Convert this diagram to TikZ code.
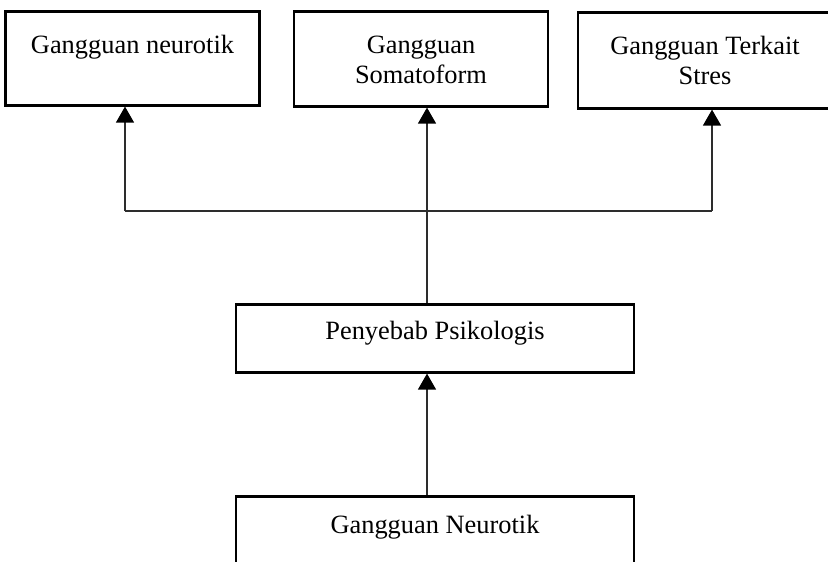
\documentclass[tikz,border=0pt]{standalone}
\usepackage{fontspec}
\setmainfont{Liberation Serif}
\usetikzlibrary{arrows.meta}
\definecolor{linegray}{RGB}{45,45,45}

\begin{document}
\begin{tikzpicture}[x=0.5pt,y=-0.5pt,
  box/.style={draw=black, line width=1.3pt, rectangle, inner sep=0pt, align=center, minimum width=127pt, font=\fontsize{13.2}{14.8}\selectfont},
  conn/.style={draw=linegray, line width=0.65pt},
  arr/.style={conn, -{Triangle[length=8pt,width=9pt,color=black]}}]
\useasboundingbox (0,0) rectangle (828,561);

\node (neurotik) [box, anchor=north, text height=21pt, text depth=26pt] at (132.5,10) {Gangguan neurotik};
\node (somato) [box, anchor=north, text height=36pt, text depth=11.5pt] at (421,10) {Gangguan\\Somatoform};
\node (stres) [box, anchor=north, text height=36pt, text depth=12pt] at (705,11) {Gangguan Terkait\\Stres};

\node (psiko) [box, anchor=north, minimum width=199pt, text height=17.5pt, text depth=16.5pt] at (435,303) {Penyebab Psikologis};
\node (gneuro) [box, anchor=north, minimum width=199pt, text height=18.5pt, text depth=40pt] at (435,495) {Gangguan Neurotik};

% junction points on the horizontal line
\coordinate (j1) at (125,211);
\coordinate (j2) at (427,211);
\coordinate (j3) at (712,211);

\draw[conn] (j1) -- (j3);
\draw[arr] (j1) -- (j1 |- neurotik.south);
\draw[arr] (j3) -- (j3 |- stres.south);
\draw[arr] (j2 |- psiko.north) -- (j2 |- somato.south);
\draw[arr] (j2 |- gneuro.north) -- (j2 |- psiko.south);
\end{tikzpicture}
\end{document}
